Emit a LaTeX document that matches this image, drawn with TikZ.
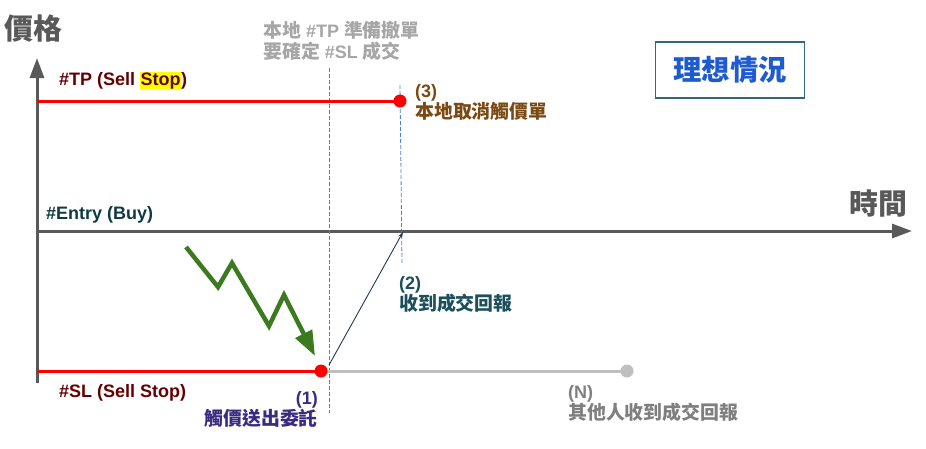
\documentclass[tikz,border=0pt]{standalone}
\usepackage{fontspec}
\setmainfont{Liberation Sans}
\newfontfamily\cjk{Noto Sans CJK TC}[Scale=1.05]
\usepackage{xcolor}
\usetikzlibrary{arrows.meta}
\setlength{\fboxsep}{0.5pt}
\definecolor{axisgray}{HTML}{595959}
\definecolor{linered}{HTML}{FF0000}
\definecolor{dotgray}{HTML}{BFBFBF}
\definecolor{guideblue}{HTML}{4A7FD4}
\definecolor{tpred}{HTML}{660000}
\definecolor{hlyellow}{HTML}{FFFF00}
\definecolor{entryteal}{HTML}{0E3A44}
\definecolor{notegray}{HTML}{A6A6A6}
\definecolor{cancelbrown}{HTML}{7B4A12}
\definecolor{fillteal}{HTML}{1B4F5C}
\definecolor{sendpurple}{HTML}{3A2B80}
\definecolor{othergray}{HTML}{7F7F7F}
\definecolor{trendgreen}{HTML}{3B7A1E}
\definecolor{boxteal}{HTML}{2F6B75}
\definecolor{boxblue}{HTML}{1F5BD0}
\definecolor{arrowslate}{HTML}{1E3A50}

\begin{document}
\begin{tikzpicture}[x=1pt, y=-1pt,
    axis/.style={line width=3pt, color=axisgray, -{Triangle[length=20pt,width=14pt]}},
    level/.style={line width=3pt, color=#1},
    guide/.style={line width=0.8pt, color=guideblue, dash pattern=on 4pt off 2pt},
    dot/.style={circle, fill=#1, inner sep=0pt, minimum size=13pt},
    lbl/.style={font=\bfseries\fontsize{18}{21}\selectfont, inner sep=0pt},
    big/.style={font=\bfseries\fontsize{27.5}{30}\selectfont, inner sep=0pt}]
    \useasboundingbox (0,0) rectangle (926,448);

    % Points
    \coordinate (y-bot) at (37,383);
    \coordinate (y-top) at (37,58);
    \coordinate (x-start) at (37,231);
    \coordinate (x-end) at (912,231);
    \coordinate (tp-start) at (37,101);
    \coordinate (tp-end) at (400,101);
    \coordinate (sl-start) at (37,371);
    \coordinate (sl-end) at (321,371);
    \coordinate (n-end) at (627,371);
    \coordinate (g1-top) at (329,68);
    \coordinate (g1-bot) at (329,413);
    \coordinate (g2-top) at (400,85);
    \coordinate (g2-bot) at (402,263);
    \coordinate (fill-start) at (329,365);
    \coordinate (fill-end) at (403,232);

    % Axes and lines
    \draw [axis] (y-bot) -- (y-top);
    \draw [axis] (x-start) -- (x-end);
    \draw [guide] (g1-top) -- (g1-bot);
    \draw [guide] (g2-top) -- (g2-bot);
    \draw [level=linered] (tp-start) -- (tp-end);
    \draw [level=dotgray] (sl-end) -- (n-end);
    \draw [level=linered] (sl-start) -- (sl-end);
    \draw [line width=0.9pt, arrowslate, -{Stealth[length=6pt,width=4pt]}] (fill-start) -- (fill-end);
    \draw [line width=4.5pt, trendgreen, -{Triangle[length=25pt,width=18pt]}]
        (186,247) -- (218,287) -- (232,263) -- (269,326) -- (284,295) -- (315,356);

    % Dots
    \node [dot=linered] (tp-dot) at (tp-end) {};
    \node [dot=linered] (sl-dot) at (sl-end) {};
    \node [dot=dotgray] (n-dot) at (n-end) {};

    % Node Labels
    \node [big, text=axisgray] (price) at (33,29) {\cjk 價格};
    \node [big, text=axisgray] (time) at (878,204) {\cjk 時間};
    \node [draw=boxteal, line width=1.5pt, minimum width=149pt, minimum height=56pt,
        font=\bfseries\fontsize{27}{30}\selectfont, text=boxblue] (ideal) at (730,70) {\cjk 理想情況};
    \node [lbl, text=tpred, anchor=west] (tp-label) at (59,81) {\#TP (Sell \colorbox{hlyellow}{Stop})};
    \node [lbl, text=entryteal, anchor=west] (entry-label) at (46,215) {\#Entry (Buy)};
    \node [lbl, text=tpred, anchor=west] (sl-label) at (59,393) {\#SL (Sell Stop)};
    \node [lbl, text=notegray, anchor=north west, align=left] (note) at (263,21)
        {{\cjk 本地} \#TP {\cjk 準備撤單}\\{\cjk 要確定} \#SL {\cjk 成交}};
    \node [lbl, text=cancelbrown, anchor=north west, align=left] (step3) at (415,84) {(3)\\{\cjk 本地取消觸價單}};
    \node [lbl, text=fillteal, anchor=north west, align=left] (step2) at (399,276) {(2)\\{\cjk 收到成交回報}};
    \node [lbl, text=sendpurple, anchor=north east, align=right] (step1) at (318,391) {(1)\\{\cjk 觸價送出委託}};
    \node [lbl, text=othergray, anchor=north west, align=left] (stepn) at (568,385) {(N)\\{\cjk 其他人收到成交回報}};
\end{tikzpicture}
\end{document}
